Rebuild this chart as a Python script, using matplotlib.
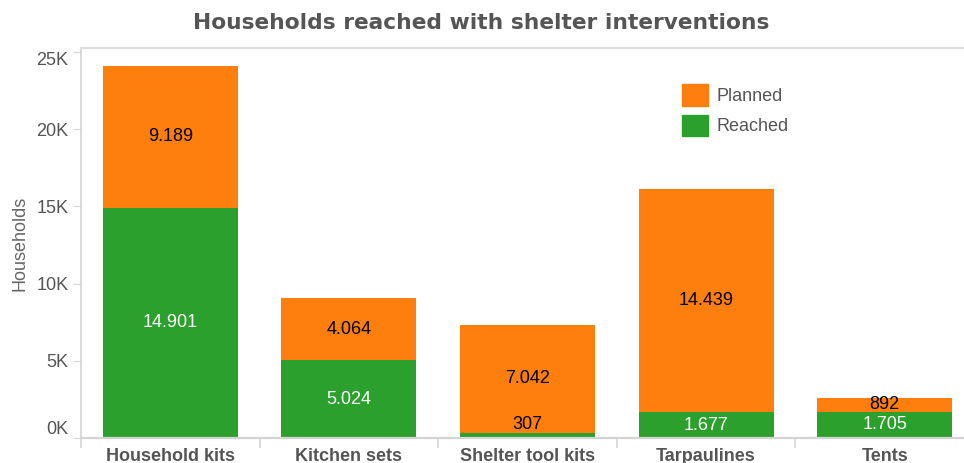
import matplotlib.pyplot as plt
from matplotlib.patches import Patch
import numpy as np

categories = ["Household kits", "Kitchen sets", "Shelter tool kits", "Tarpaulines", "Tents"]
reached = [14901, 5024, 307, 1677, 1705]
planned = [9189, 4064, 7042, 14439, 892]
y_ticks = [0, 5000, 10000, 15000, 20000, 25000]
y_tick_labels = ["0K", "5K", "10K", "15K", "20K", "25K"]

ORANGE = "#ff7f0e"
GREEN = "#2ca02c"
GRID = "#d4d4d4"
TEXT = "#555555"

plt.rcParams['font.family'] = ['Liberation Sans', 'DejaVu Sans']


def fmt(v):
    return f"{v:,}".replace(",", ".")


fig = plt.figure(figsize=(9.64, 4.63), dpi=100)
ax = fig.add_axes([81 / 964, 25 / 463, 893 / 964, 390 / 463])

x = np.arange(len(categories))
width = 0.756
ax.bar(x, reached, width, color=GREEN, label="Reached")
ax.bar(x, planned, width, bottom=reached, color=ORANGE, label="Planned")

ax.set_xlim(-0.5, len(categories) - 0.5)
ax.set_ylim(0, 25259)

# value labels
for i, (r, p) in enumerate(zip(reached, planned)):
    ax.text(i, r + p / 2, fmt(p), ha="center", va="center", fontsize=13, color="black")
    if r < 800:
        # too thin for an inside label, put it on top in black
        ax.annotate(fmt(r), (i, r), xytext=(0, 0), textcoords="offset points",
                    ha="center", va="bottom", fontsize=13, color="black")
    else:
        ax.text(i, r / 2, fmt(r), ha="center", va="center", fontsize=13, color="white")

# axes styling
ax.spines["right"].set_visible(False)
ax.spines["left"].set_color(GRID)
ax.spines["left"].set_linewidth(1.2)
ax.spines["top"].set_color("#dddddd")
ax.spines["top"].set_linewidth(1.6)
ax.spines["bottom"].set_color(GRID)
ax.spines["bottom"].set_linewidth(1.6)

ax.set_yticks(y_ticks)
ax.set_yticklabels(y_tick_labels)
ax.tick_params(axis="y", length=6, color=GRID, labelsize=13, labelcolor=TEXT, pad=3)
ylabels = ax.get_yticklabels()
ylabels[0].set_va("bottom")
ylabels[-1].set_va("top")

ax.set_xticks(x)
ax.set_xticklabels(categories, fontweight="bold")
ax.tick_params(axis="x", which="major", length=0, labelsize=13, labelcolor=TEXT, pad=7)
ax.set_xticks(np.arange(len(categories) + 1) - 0.5, minor=True)
ax.tick_params(axis="x", which="minor", length=7, color=GRID, width=1.2)

ax.set_ylabel("Households", fontsize=13, color="#666666", labelpad=6)

fig.text(481 / 964, 1 - 23 / 463, "Households reached with shelter interventions",
         ha="center", va="center", fontsize=15.7, fontweight="bold",
         color=TEXT, family="DejaVu Sans")

handles = [Patch(color=ORANGE, label="Planned"), Patch(color=GREEN, label="Reached")]
ax.legend(handles=handles, loc="upper left", bbox_to_anchor=(0.673, 0.907),
          frameon=False, fontsize=13, borderpad=0, borderaxespad=0,
          handlelength=1.45, handleheight=1.45, handletextpad=0.45,
          labelspacing=0.5, labelcolor=TEXT)

fig.savefig("out.png", dpi=100)
